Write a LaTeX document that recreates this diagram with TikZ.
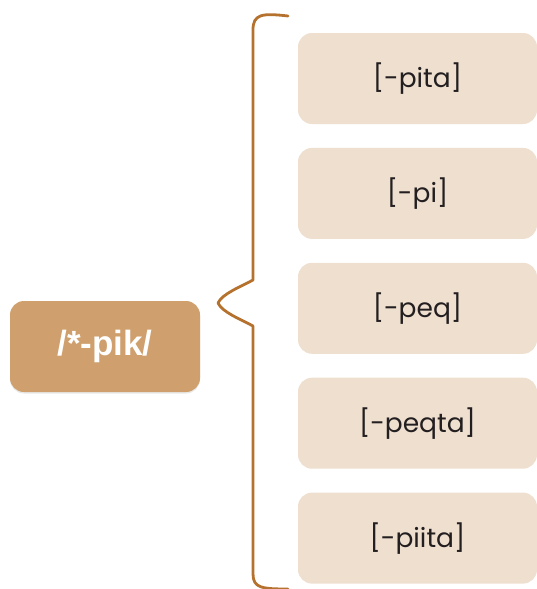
\documentclass[tikz,border=0pt]{standalone}
\usepackage{fontspec}
\setmainfont{Poppins}
\newfontfamily\rootfont{Liberation Sans}
\usetikzlibrary{shadows,chains,positioning}

\definecolor{rootfill}{HTML}{CFA06D}
\definecolor{formfill}{HTML}{EEDFCF}
\definecolor{bracecol}{HTML}{B5722E}
\definecolor{formtext}{HTML}{231F20}

\tikzset{
  rootbox/.style={rounded corners=14pt,fill=rootfill,minimum width=190pt,minimum height=91pt,
    text=white,font=\rootfont\bfseries\fontsize{35}{40}\selectfont,
    drop shadow={opacity=0.18,shadow xshift=0pt,shadow yshift=-1.5pt}},
  formbox/.style={rounded corners=14pt,fill=formfill,minimum width=239pt,minimum height=91pt,
    text=formtext,font=\fontsize{26.5}{30}\selectfont}
}

\begin{document}
\begin{tikzpicture}[x=1pt,y=-1pt]
\useasboundingbox (0,0) rectangle (537,589);

\node [rootbox] (root) at (105,346.5) {/*-pik/};

\begin{scope}[shift={(417.5,78.5)},start chain=going below,node distance=23.5pt]
\def\forms{1/{[-pita]},2/{[-pi]},3/{[-peq]},4/{[-peqta]},5/{[-piita]}}
\foreach \i / \form in \forms
  \node [formbox,on chain] (f\i) {\form};
\end{scope}

\draw [bracecol,line width=2.8pt,line cap=round,line join=round]
  (288,16) .. controls (262,13) and (253,14) .. (253,30) -- (253,280)
  .. controls (240,287) and (222,294) .. (218,303)
  .. controls (222,312) and (240,319) .. (253,326) -- (253,574)
  .. controls (253,588) and (262,589) .. (288,589);

\end{tikzpicture}
\end{document}
